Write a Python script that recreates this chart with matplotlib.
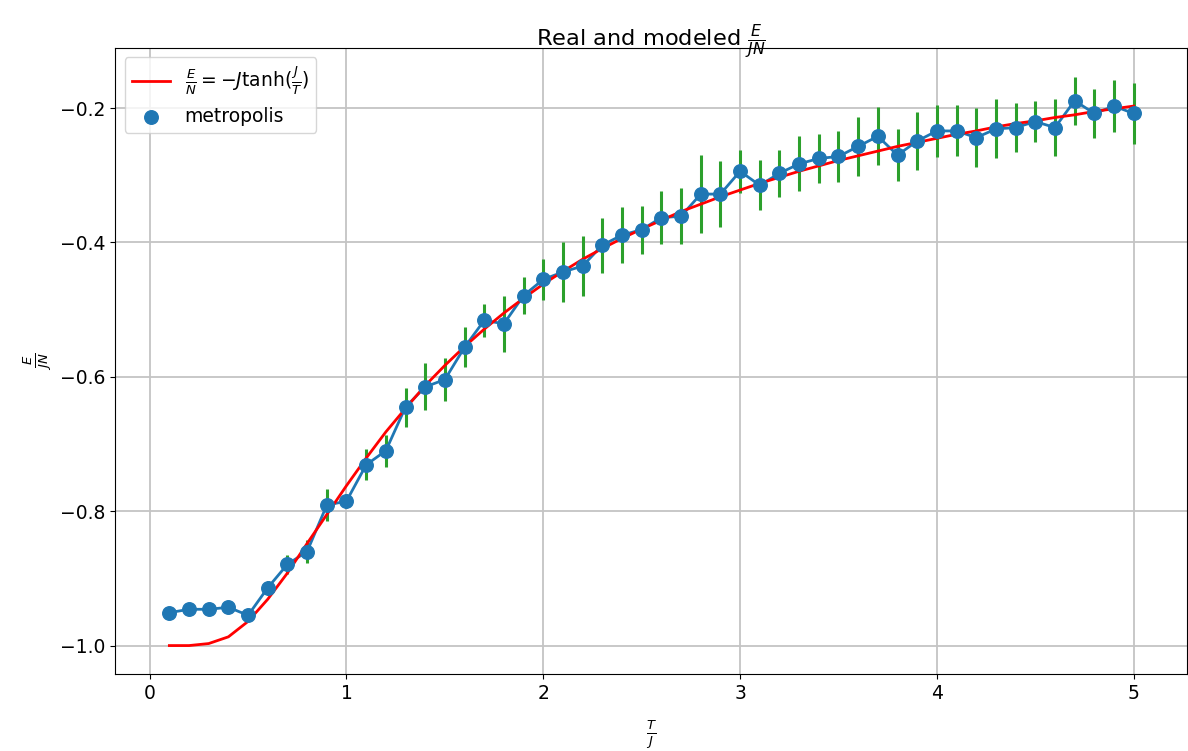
import numpy as np
import matplotlib
matplotlib.use("Agg")
import matplotlib.pyplot as plt

# temperatures T/J
T = [0.1, 0.2, 0.3, 0.4, 0.5, 0.6, 0.7, 0.8, 0.9, 1.0,
     1.1, 1.2, 1.3, 1.4, 1.5, 1.6, 1.7, 1.8, 1.9, 2.0,
     2.1, 2.2, 2.3, 2.4, 2.5, 2.6, 2.7, 2.8, 2.9, 3.0,
     3.1, 3.2, 3.3, 3.4, 3.5, 3.6, 3.7, 3.8, 3.9, 4.0,
     4.1, 4.2, 4.3, 4.4, 4.5, 4.6, 4.7, 4.8, 4.9, 5.0]

# modeled energy per spin (red curve)
E_model = [-1.000, -1.000, -0.997, -0.987, -0.964, -0.931, -0.892, -0.848, -0.805, -0.762,
           -0.721, -0.682, -0.647, -0.613, -0.583, -0.555, -0.529, -0.505, -0.483, -0.462,
           -0.443, -0.425, -0.409, -0.394, -0.380, -0.367, -0.354, -0.343, -0.332, -0.322,
           -0.312, -0.303, -0.294, -0.286, -0.278, -0.271, -0.264, -0.257, -0.251, -0.245,
           -0.239, -0.234, -0.228, -0.223, -0.219, -0.214, -0.210, -0.205, -0.201, -0.197]

# metropolis results
E_metro = [-0.951, -0.946, -0.946, -0.943, -0.955, -0.914, -0.879, -0.860, -0.791, -0.785,
           -0.731, -0.710, -0.645, -0.615, -0.604, -0.556, -0.516, -0.521, -0.479, -0.455,
           -0.444, -0.435, -0.404, -0.389, -0.381, -0.363, -0.361, -0.328, -0.328, -0.294,
           -0.315, -0.297, -0.283, -0.275, -0.272, -0.257, -0.242, -0.270, -0.249, -0.234,
           -0.234, -0.244, -0.231, -0.229, -0.220, -0.229, -0.189, -0.208, -0.197, -0.208]

E_err = [0.002, 0.002, 0.002, 0.003, 0.005, 0.010, 0.014, 0.017, 0.024, 0.010,
         0.023, 0.024, 0.029, 0.035, 0.032, 0.030, 0.025, 0.042, 0.028, 0.031,
         0.045, 0.045, 0.041, 0.042, 0.036, 0.039, 0.042, 0.058, 0.049, 0.032,
         0.037, 0.035, 0.041, 0.037, 0.038, 0.044, 0.043, 0.039, 0.043, 0.039,
         0.038, 0.044, 0.044, 0.036, 0.031, 0.042, 0.036, 0.036, 0.039, 0.046]

plt.rcParams['font.size'] = 13.5

fig = plt.figure(figsize=(11.88, 7.51), dpi=100)
ax = fig.add_axes([0.097, 0.1025, 0.902, 0.8335])

ax.errorbar(T, E_metro, yerr=E_err, color='C0', ecolor='C2', elinewidth=2.2, lw=2, zorder=2)
ax.plot(T, E_model, 'r', lw=2, label=r'$\frac{E}{N} = -J\tanh(\frac{J}{T})$', zorder=3)
ax.scatter(T, E_metro, s=95, color='C0', label='metropolis', zorder=4)

ax.set_xlim(-0.175, 5.27)
ax.grid(True, lw=1.3, color='#c4c4c4')
ax.set_title(r'Real and modeled $\frac{E}{JN}$', y=0.989)
ax.set_xlabel(r'$\frac{T}{J}$', labelpad=11)
ax.set_ylabel(r'$\frac{E}{JN}$')
ax.legend(loc='upper left')

plt.savefig('out.png')
